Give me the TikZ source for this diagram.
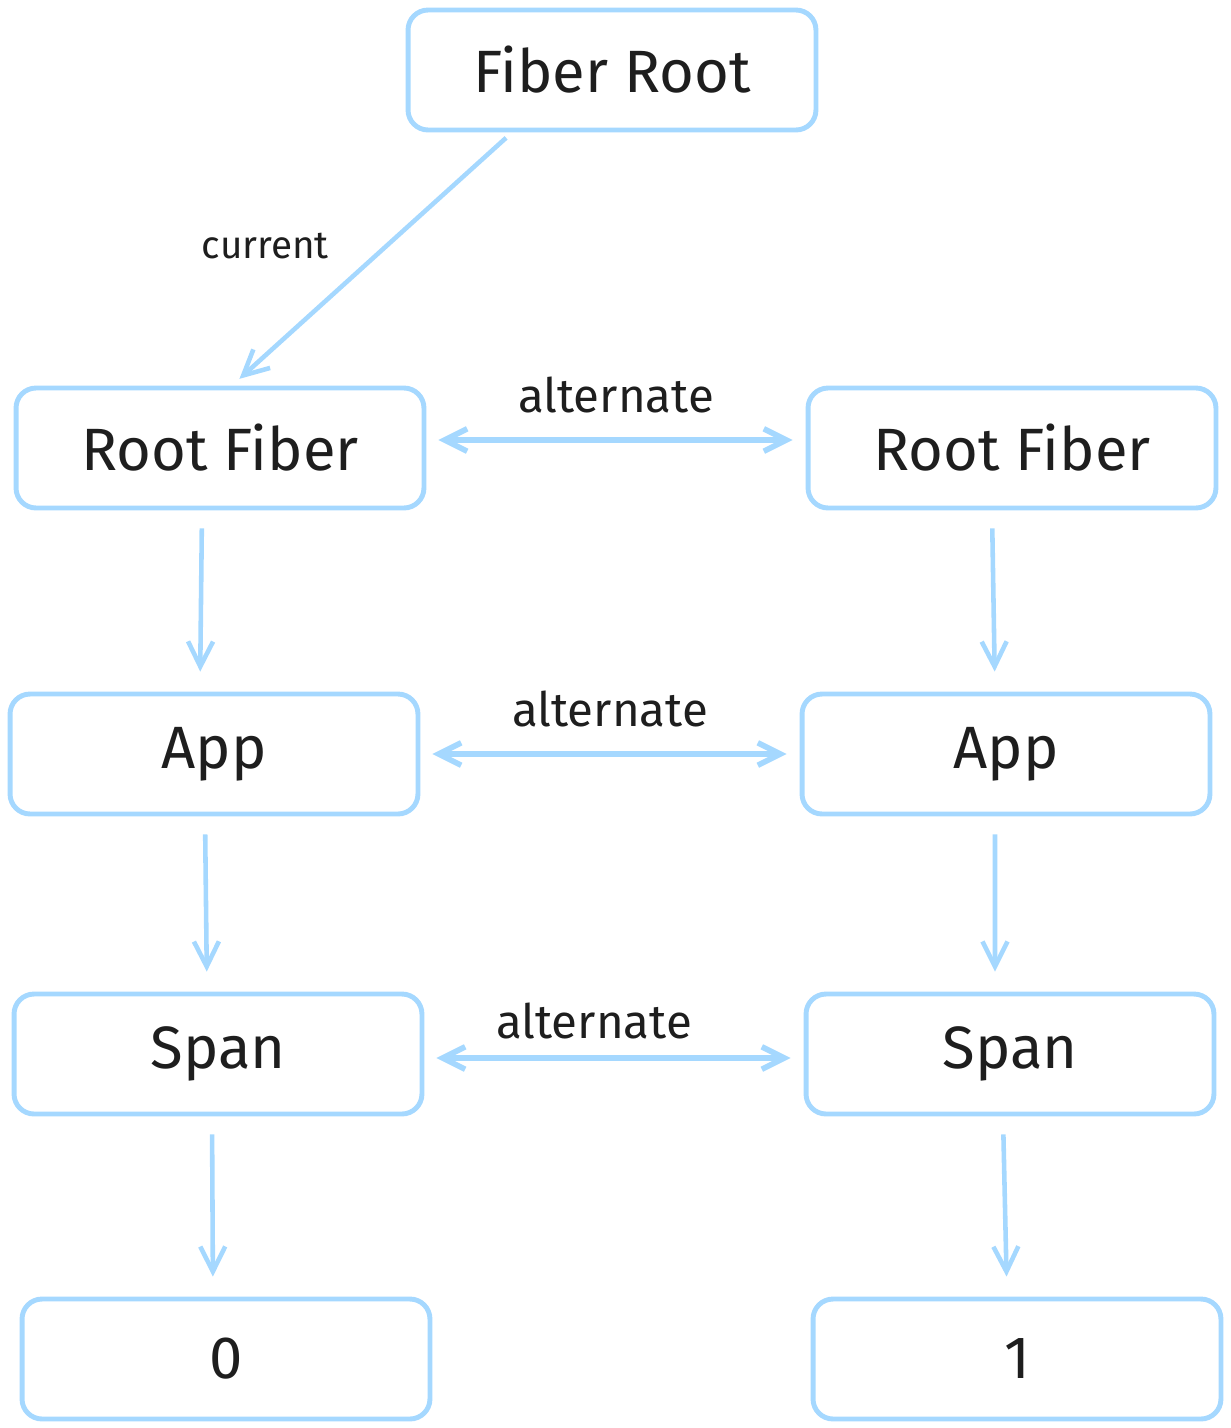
\documentclass[tikz,border=0pt]{standalone}
\usepackage{fontspec}
\setmainfont{Fira Sans}
\usepackage{tikz}
\usetikzlibrary{arrows.meta}
\definecolor{sky}{HTML}{A5D8FF}
\definecolor{ink}{HTML}{1E1E1E}

\begin{document}
\begin{tikzpicture}[x=0.02cm,y=-0.02cm,
	box/.style={draw=sky,line width=2.8pt,rounded corners=0.4cm,minimum width=8.16cm,minimum height=2.4cm,text=ink,font=\fontsize{34}{40}\selectfont},
	arr/.style={draw=sky,line width=2.6pt,-{Straight Barb[length=0.5cm,width=0.5cm]},shorten <=0.36cm,shorten >=0.4cm},
	alt/.style={draw=sky,line width=3.2pt,{Straight Barb[length=0.45cm,width=0.45cm]}-{Straight Barb[length=0.45cm,width=0.45cm]},shorten <=0.24cm,shorten >=0.26cm},
	lbl/.style={text=ink,font=\fontsize{27}{32}\selectfont}]
	\useasboundingbox (0,0) rectangle (1231,1428);
	
	\node[box] (fr) at (612,70) {Fiber Root};
	\node[box] (rfl) at (220,448) {Root Fiber};
	\node[box] (rfr) at (1012,448) {Root Fiber};
	\node[box] (appl) at (214,754) {App};
	\node[box] (appr) at (1006,754) {App};
	\node[box] (spanl) at (218,1054) {Span};
	\node[box] (spanr) at (1010,1054) {Span};
	\node[box] (zero) at (226,1359) {0};
	\node[box] (one) at (1017,1359) {1};
	
	\draw[arr,shorten <=0.16cm,shorten >=0.2cm] ([xshift=-2cm]fr.south) -- ([xshift=0.24cm]rfl.north)
		node[midway,left=0.7cm,yshift=0.26cm,text=ink,font=\fontsize{22}{26}\selectfont] {current};
	
	% alternate links
	\draw[alt] ([yshift=0.16cm]rfl.east) -- ([yshift=0.16cm]rfr.west)
		node[midway,yshift=0.9cm,lbl] {alternate};
	\draw[alt] (appl.east) -- (appr.west)
		node[midway,yshift=0.9cm,lbl] {alternate};
	\draw[alt] ([yshift=-0.08cm]spanl.east) -- ([yshift=-0.08cm]spanr.west)
		node[midway,yshift=0.74cm,xshift=-0.4cm,lbl] {alternate};
	
	% children
	\draw[arr] ([xshift=-0.36cm]rfl.south) -- ([xshift=-0.28cm]appl.north);
	\draw[arr] ([xshift=-0.4cm]rfr.south) -- ([xshift=-0.22cm]appr.north);
	\draw[arr] ([xshift=-0.18cm]appl.south) -- ([xshift=-0.22cm]spanl.north);
	\draw[arr] ([xshift=-0.22cm]appr.south) -- ([xshift=-0.3cm]spanr.north);
	\draw[arr] ([xshift=-0.12cm]spanl.south) -- ([xshift=-0.26cm]zero.north);
	\draw[arr] ([xshift=-0.14cm]spanr.south) -- ([xshift=-0.2cm]one.north);
\end{tikzpicture}
\end{document}
